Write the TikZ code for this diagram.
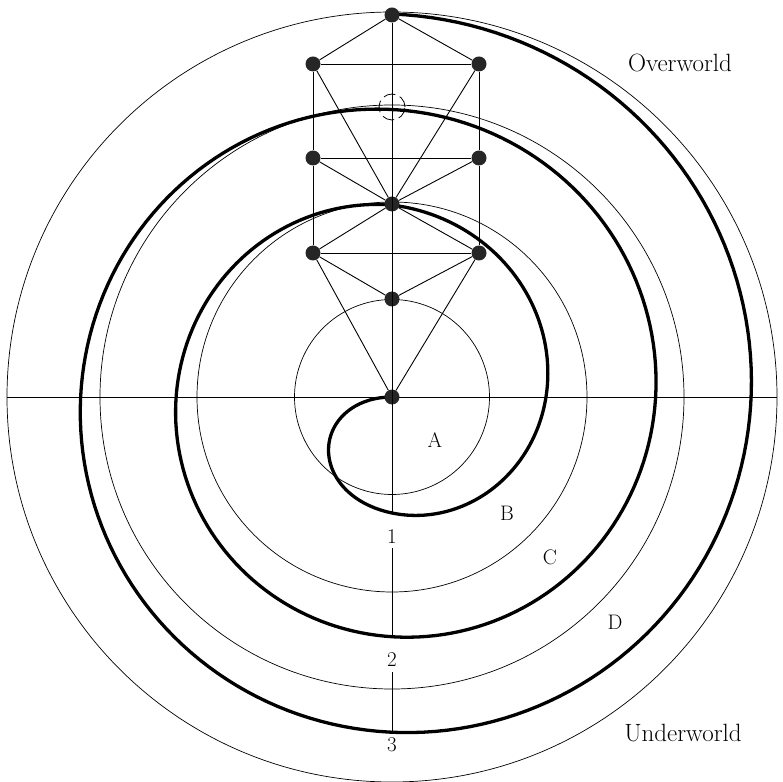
\documentclass[tikz,border=0pt]{standalone}
\usepackage{tikz}
\usetikzlibrary{positioning}

\begin{document}
\begin{tikzpicture}[x=1pt,y=1pt,
 ring/.style={draw,line width=0.7pt},
 coil/.style={draw,line width=3.3pt,line cap=round,line join=round},
 link/.style={draw,line width=0.9pt},
 sefira/.style={circle,fill=black!85,inner sep=0pt,minimum size=15pt},
 veil/.style={circle,draw,dash pattern=on 12pt off 5pt,line width=0.8pt,minimum size=26pt,inner sep=0pt},
 lbl/.style={inner sep=0pt,font=\fontsize{21}{24}\selectfont},
 world/.style={inner sep=0pt,font=\fontsize{25}{30}\selectfont},
 declare function={
  sq(\s)=\s*(282+\s*(-254+88*\s));
  sr(\t)=(\t<270) ? (sq(min((\t-180)/90,1))) : ((\t<450) ? (116+(\t-270)/90*38) : (192+(\t-450)/90*23.875));}]
\useasboundingbox (-392,-384) rectangle (391,397);
% rings and axes
\foreach \r in {97.5,195,292,385} \draw[ring] (0,0) circle (\r);
\coordinate (west) at (-385,0); \coordinate (east) at (385,0);
\draw[ring] (west)--(east);
% the spiral
\draw[coil] plot[domain=180:1170,samples=500] (\x:{sr(\x)});
% tree
\node[sefira] (kether) at (0,382) {};
\node[sefira] (binah) at (-79,333) {};
\node[sefira] (chokmah) at (87,333) {};
\node[veil] (daath) at (0,290) {};
\node[sefira] (geburah) at (-79,239) {};
\node[sefira] (chesed) at (87,239) {};
\node[sefira] (tiphareth) at (0,193) {};
\node[sefira] (hod) at (-79,144) {};
\node[sefira] (netzach) at (87,144) {};
\node[sefira] (yesod) at (0,98) {};
\node[sefira] (malkuth) at (0,0) {};
\draw[link] (kether)--(binah);\draw[link] (kether)--(chokmah);\draw[link] (binah)--(chokmah);
\draw[link] (binah)--(geburah);\draw[link] (geburah)--(hod);
\draw[link] (chokmah)--(chesed);\draw[link] (chesed)--(netzach);
\draw[link] (binah)--(tiphareth);\draw[link] (chokmah)--(tiphareth);
\draw[link] (geburah)--(chesed);\draw[link] (geburah)--(tiphareth);\draw[link] (chesed)--(tiphareth);
\draw[link] (tiphareth)--(hod);\draw[link] (tiphareth)--(netzach);\draw[link] (hod)--(netzach);
\draw[link] (hod)--(yesod);\draw[link] (netzach)--(yesod);
\draw[link] (hod)--(malkuth);\draw[link] (netzach)--(malkuth);
\coordinate (loopA) at (0,-116);
\draw[link] (kether)--(loopA);
% levels
\node[lbl] (one) at (0,-140) {1};
\node[lbl] (two) at (0,-263) {2};
\node[lbl] (three) at (0,-348) {3};
\coordinate (loopB) at (0,-240); \coordinate (loopC) at (0,-334);
\draw[link] ([yshift=-4pt]one.south)--(loopB);
\draw[link] ([yshift=-5pt]two.south)--(loopC);
% labels
\node[lbl] (a) at (43,-43) {A};
\node[lbl] (b) at (115,-116) {B};
\node[lbl] (c) at (158,-160) {C};
\node[lbl] (d) at (223,-225) {D};
\node[world] (over) at (288,334) {Overworld};
\node[world] (under) at (291,-336) {Underworld};
\end{tikzpicture}
\end{document}
